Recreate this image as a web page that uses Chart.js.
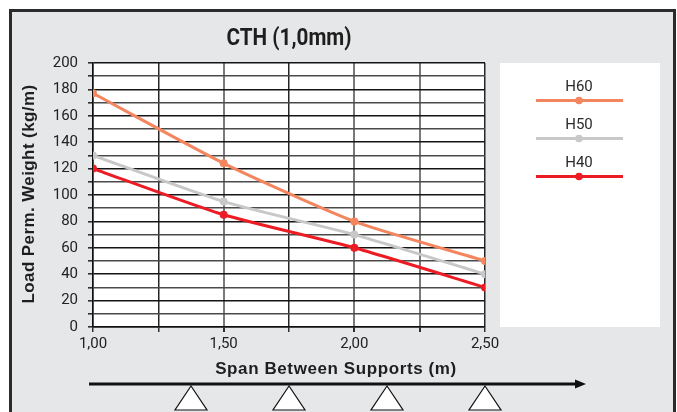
<!DOCTYPE html>
<html>
<head>
<meta charset="utf-8">
<script src="https://cdn.jsdelivr.net/npm/chart.js@4/dist/chart.umd.min.js"></script>
<style>
  html, body { margin: 0; padding: 0; background: #fff; }
  #chart { display: block; }
</style>
</head>
<body>
<canvas id="chart" width="677" height="412"></canvas>
<script>
const spans = [1.0, 1.5, 2.0, 2.5];
const h60 = [177, 124, 80, 50];
const h50 = [130, 95, 70, 40];
const h40 = [120, 85, 60, 30];
const seriesNames = ['H60', 'H50', 'H40'];
const seriesColors = ['#f4865f', '#c8c8c8', '#ed1c24'];

const chartTitle = 'CTH (1,0mm)';
const xTitle = 'Span Between Supports (m)';
const yTitle = 'Load Perm. Weight (kg/m)';

const tickFont = { family: 'Roboto, "Noto Sans", sans-serif', size: 15 };

const toPoints = (vals) => vals.map((v, i) => ({ x: spans[i], y: v }));

// frame, plot background, titles, legend and the support sketch
const decor = {
  id: 'decor',
  beforeDraw(chart) {
    const { ctx, chartArea: a } = chart;
    ctx.save();
    ctx.fillStyle = '#ffffff';
    ctx.fillRect(0, 0, chart.width, chart.height);
    ctx.fillStyle = '#e6e7e8';
    ctx.fillRect(9, 9, 667, 420);
    ctx.strokeStyle = '#2b2b2b';
    ctx.lineWidth = 3;
    ctx.strokeRect(10.5, 10.5, 664, 420);
    ctx.fillStyle = '#ffffff';
    ctx.fillRect(a.left, a.top, a.right - a.left, a.bottom - a.top);
    ctx.restore();
  },
  afterDraw(chart) {
    const { ctx, chartArea: a } = chart;
    ctx.save();
    ctx.fillStyle = '#1e1e1e';
    ctx.textAlign = 'center';
    ctx.textBaseline = 'middle';

    // condensed look for the title
    ctx.save();
    ctx.translate((a.left + a.right) / 2, 39);
    ctx.scale(0.9, 1);
    ctx.font = 'bold 23px Roboto, sans-serif';
    ctx.fillText(chartTitle, 0, 0);
    ctx.restore();

    ctx.font = 'bold 17px "Liberation Sans", Arial, sans-serif';
    ctx.letterSpacing = '0.6px';
    ctx.fillText(xTitle, 336, 369);

    ctx.save();
    ctx.translate(29, 194);
    ctx.rotate(-Math.PI / 2);
    ctx.letterSpacing = '0.4px';
    ctx.fillText(yTitle, 0, 0);
    ctx.restore();
    ctx.letterSpacing = '0px';

    // legend box
    ctx.fillStyle = '#ffffff';
    ctx.fillRect(500, 63, 160, 264);
    ctx.font = '15px Roboto, sans-serif';
    chart.data.datasets.forEach((ds, i) => {
      const ty = 87 + i * 38;
      const cx = 579;
      ctx.fillStyle = '#2a2a2a';
      ctx.fillText(ds.label, cx, ty);
      ctx.strokeStyle = ds.borderColor;
      ctx.lineWidth = 3;
      ctx.beginPath();
      ctx.moveTo(536, ty + 13.5);
      ctx.lineTo(623, ty + 13.5);
      ctx.stroke();
      ctx.fillStyle = ds.borderColor;
      ctx.beginPath();
      ctx.arc(cx, ty + 13.5, 3.8, 0, Math.PI * 2);
      ctx.fill();
    });

    // beam arrow
    ctx.strokeStyle = '#111';
    ctx.fillStyle = '#111';
    ctx.lineWidth = 3;
    ctx.beginPath();
    ctx.moveTo(89, 384);
    ctx.lineTo(578, 384);
    ctx.stroke();
    ctx.beginPath();
    ctx.moveTo(586, 384);
    ctx.lineTo(575, 379.5);
    ctx.lineTo(575, 388.5);
    ctx.closePath();
    ctx.fill();

    // supports
    const step = (a.right - a.left) / 4;
    ctx.lineWidth = 1.2;
    for (let k = 0; k < 4; k++) {
      const x = a.right - k * step;
      ctx.beginPath();
      ctx.moveTo(x, 386);
      ctx.lineTo(x - 16, 410);
      ctx.lineTo(x + 16, 410);
      ctx.closePath();
      ctx.fillStyle = '#ffffff';
      ctx.fill();
      ctx.strokeStyle = '#111';
      ctx.stroke();
    }
    ctx.restore();
  }
};

const makeSet = (label, data, color) => ({
  label,
  data: toPoints(data),
  borderColor: color,
  backgroundColor: color,
  borderWidth: 3,
  pointRadius: 4,
  pointBorderWidth: 0,
  pointHoverRadius: 4,
  tension: 0.2
});

new Chart(document.getElementById('chart'), {
  type: 'line',
  data: {
    datasets: [
      makeSet(seriesNames[0], h60, seriesColors[0]),
      makeSet(seriesNames[1], h50, seriesColors[1]),
      makeSet(seriesNames[2], h40, seriesColors[2])
    ]
  },
  options: {
    responsive: false,
    animation: false,
    layout: { padding: { left: 0, right: 192, top: 63, bottom: 0 } },
    plugins: {
      legend: { display: false },
      tooltip: { enabled: false },
      title: { display: false }
    },
    scales: {
      x: {
        type: 'linear',
        min: 1,
        max: 2.5,
        afterFit: (s) => { s.height = 85; },
        grid: {
          color: (c) => [1.5, 2.0, 2.25].includes(c.tick.value) ? '#7a7a7a' : '#262626',
          lineWidth: (c) => [1.5, 2.0, 2.25].includes(c.tick.value) ? 2 : 1.5,
          tickColor: '#303030',
          tickLength: 5
        },
        border: { color: '#111', width: 1.5 },
        ticks: {
          stepSize: 0.25,
          autoSkip: false,
          maxRotation: 0,
          padding: 3,
          color: '#222',
          font: tickFont,
          callback: (v) => (v * 2) % 1 === 0 ? v.toFixed(2).replace('.', ',') : ''
        }
      },
      y: {
        min: 0,
        max: 200,
        afterFit: (s) => { s.width = 93; },
        grid: {
          color: (c) => c.tick.value % 20 === 0 ? '#151515' : '#4a4a4a',
          lineWidth: 1.6,
          tickColor: '#303030',
          tickLength: 5
        },
        border: { color: '#111', width: 1.5 },
        ticks: {
          stepSize: 10,
          autoSkip: false,
          padding: 10,
          color: '#222',
          font: tickFont,
          callback: (v) => v % 20 === 0 ? v : ''
        }
      }
    }
  },
  plugins: [decor]
});
</script>
</body>
</html>
